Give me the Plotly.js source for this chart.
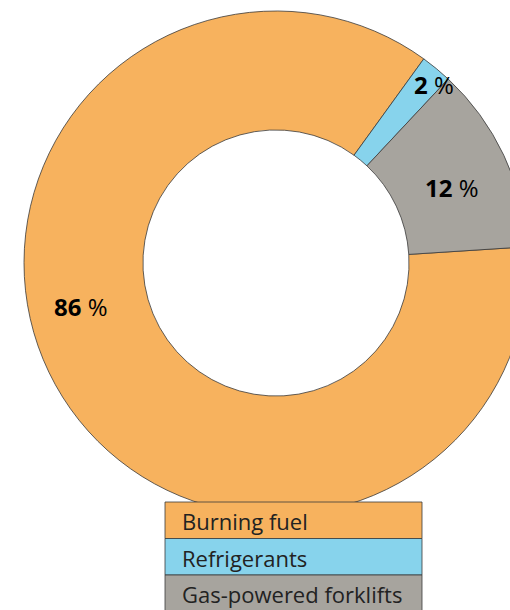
<!DOCTYPE html>
<html>
<head>
<meta charset="utf-8">
<script src="https://cdn.plot.ly/plotly-3.0.1.min.js"></script>
<style>
html,body{margin:0;padding:0;overflow:hidden;background:#fff;}
#chart{width:560px;height:610px;}
</style>
</head>
<body>
<div id="chart"></div>
<script>
const categories = ["Burning fuel", "Refrigerants", "Gas-powered forklifts"];
const values = [86, 2, 12];
const colors = ["#F7B25E", "#87D3EC", "#A7A49E"];

const W = 560, H = 610;
const px = x => x / W;
const py = y => 1 - y / H;

// percent label positions (pixel) per category
const labelPos = [[81, 306], [434, 84], [452, 188]];

const trace = {
  type: "pie",
  labels: categories,
  values: values,
  sort: false,
  direction: "clockwise",
  rotation: 86.3,
  hole: 0.528,
  textinfo: "none",
  hoverinfo: "label+percent",
  marker: {colors: colors, line: {color: "#3a3a3a", width: 0.8}},
  domain: {x: [px(24), px(528)], y: [py(515), py(11)]},
  showlegend: false
};

const shapes = [];
const annotations = [];
const rowTop = 502, rowH = 36.5, boxL = 165, boxR = 422;
categories.forEach((c, i) => {
  const t = rowTop + i * rowH;
  shapes.push({type: "rect", xref: "paper", yref: "paper",
    x0: px(boxL), x1: px(boxR), y0: py(t + rowH), y1: py(t),
    fillcolor: colors[i], line: {color: "#3a3a3a", width: 0.8}, layer: "above"});
  annotations.push({xref: "paper", yref: "paper", x: px(180), y: py(t + rowH / 2 + 1),
    xanchor: "left", yanchor: "middle", showarrow: false, text: c,
    font: {family: "Open Sans, sans-serif", size: 22, color: "#222"}});
  annotations.push({xref: "paper", yref: "paper", x: px(labelPos[i][0]), y: py(labelPos[i][1]),
    xanchor: "center", yanchor: "middle", showarrow: false,
    text: "<b>" + values[i] + "</b> %",
    font: {family: "Open Sans, sans-serif", size: 24, color: "#000"}});
});

Plotly.newPlot("chart", [trace], {
  width: W, height: H,
  margin: {l: 0, r: 0, t: 0, b: 0},
  paper_bgcolor: "#fff",
  shapes: shapes,
  annotations: annotations
}, {displayModeBar: false, staticPlot: true});
</script>
</body>
</html>
